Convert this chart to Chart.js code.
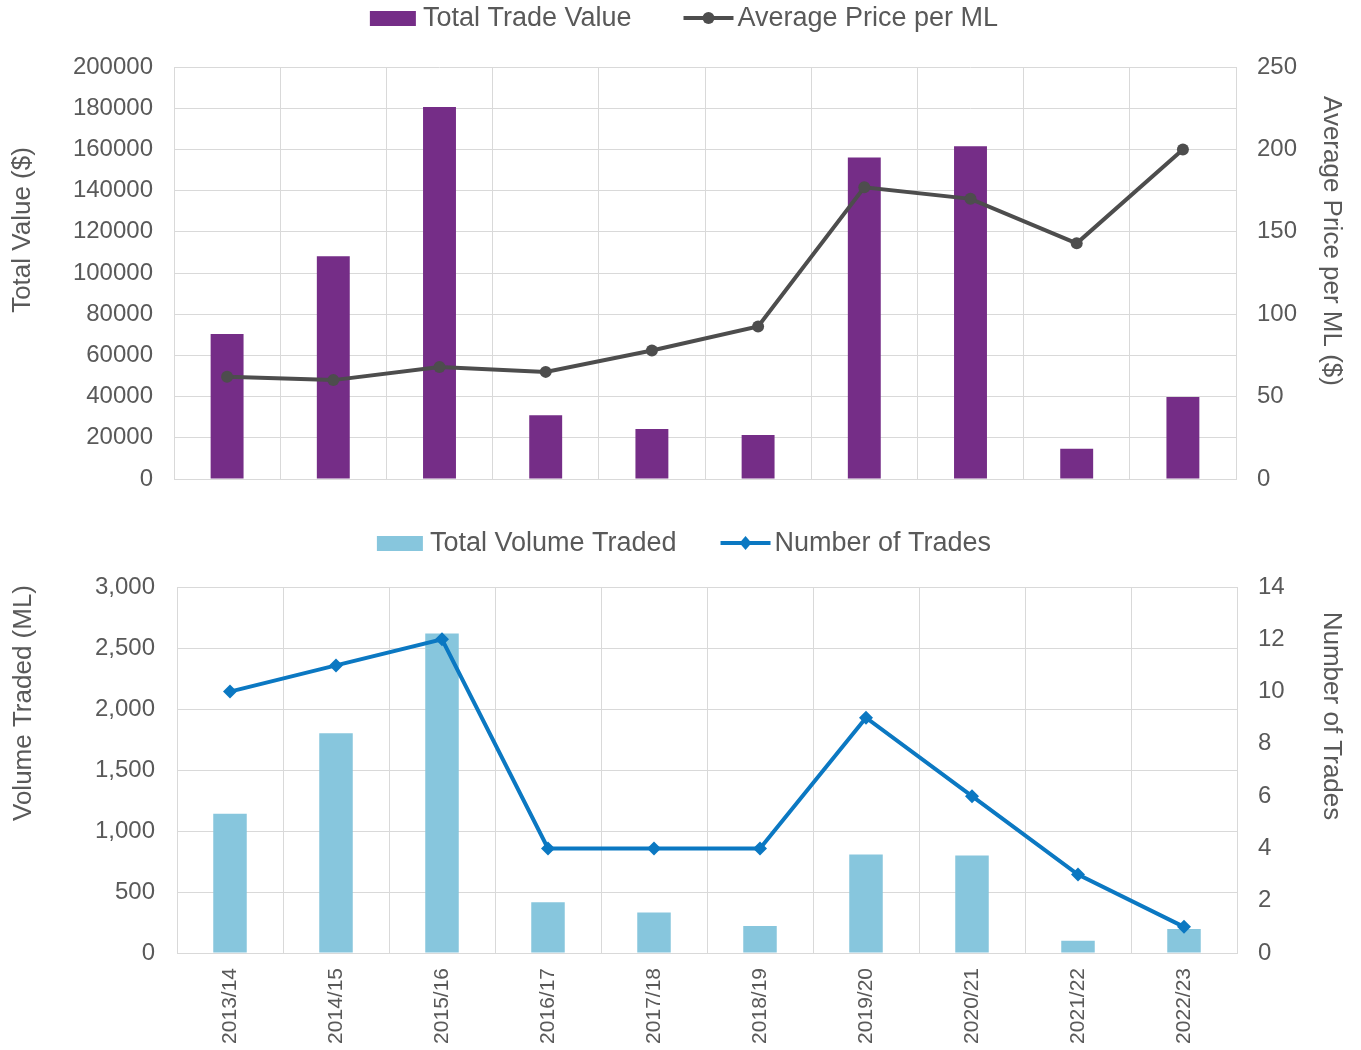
<!DOCTYPE html>
<html>
<head>
<meta charset="utf-8">
<script src="https://cdn.jsdelivr.net/npm/chart.js@4.4.1/dist/chart.umd.min.js"></script>
<style>
  html, body { margin: 0; padding: 0; background: #ffffff; }
  #wrap { position: relative; width: 1361px; height: 1050px; overflow: hidden; }
  .box { position: absolute; left: 0; width: 1361px; }
  #topBox { top: 0; height: 495px; }
  #botBox { top: 500px; height: 550px; }
</style>
</head>
<body>
<div id="wrap">
  <div class="box" id="topBox"><canvas id="topChart" width="1361" height="495"></canvas></div>
  <div class="box" id="botBox"><canvas id="botChart" width="1361" height="550"></canvas></div>
</div>
<script>
// ---------------- DATA ----------------
const categories = ['2013/14', '2014/15', '2015/16', '2016/17', '2017/18', '2018/19', '2019/20', '2020/21', '2021/22', '2022/23'];
const totalTradeValue = [70400, 108100, 180600, 30900, 24300, 21400, 156100, 161500, 14700, 39800];
const avgPricePerML = [62, 60, 68, 65, 78, 92.5, 177, 170, 143, 200];
const totalVolumeTraded = [1142, 1802, 2619, 416, 331, 222, 808, 800, 101, 197];
const numberOfTrades = [10, 11, 12, 4, 4, 4, 9, 6, 3, 1];

const valueAxisTicks = { min: 0, max: 200000, step: 20000 };
const priceAxisTicks = { min: 0, max: 250, step: 50 };
const volumeAxisTicks = { min: 0, max: 3000, step: 500 };
const tradesAxisTicks = { min: 0, max: 14, step: 2 };

// ---------------- STYLE ----------------
const FONT = '"Liberation Sans", Arial, Helvetica, sans-serif';
const TEXT = '#595959';
const GRID = '#d9d9d9';
const CLEAR = 'rgba(0,0,0,0)';
Chart.defaults.font.family = FONT;
Chart.defaults.color = TEXT;
Chart.defaults.animation = false;

const decor = {
  id: 'decor',
  afterDraw(chart, args, opts) {
    const ctx = chart.ctx;
    ctx.save();
    // legend
    ctx.font = opts.legendFont + 'px ' + FONT;
    ctx.textBaseline = 'middle';
    const items = chart.data.datasets.map(ds => {
      const isLine = ds.type === 'line';
      const iconW = isLine ? 50 : 46;
      const gap = isLine ? 4 : 7;
      return { ds, isLine, iconW, gap, tw: ctx.measureText(ds.label).width };
    });
    let total = 0;
    items.forEach((it, i) => { total += it.iconW + it.gap + it.tw + (i ? opts.legendGap : 0); });
    let x = opts.legendCenter - total / 2;
    const y = opts.legendY;
    items.forEach((it, i) => {
      if (i) x += opts.legendGap;
      if (it.isLine) {
        ctx.strokeStyle = it.ds.borderColor;
        ctx.lineWidth = 4;
        ctx.beginPath(); ctx.moveTo(x, y); ctx.lineTo(x + it.iconW, y); ctx.stroke();
        ctx.fillStyle = it.ds.borderColor;
        const cx = x + it.iconW / 2;
        ctx.beginPath();
        if (it.ds.pointStyle === 'rectRot') {
          ctx.moveTo(cx, y - 7); ctx.lineTo(cx + 6, y); ctx.lineTo(cx, y + 7); ctx.lineTo(cx - 6, y);
        } else {
          ctx.arc(cx, y, 6, 0, Math.PI * 2);
        }
        ctx.closePath(); ctx.fill();
      } else {
        ctx.fillStyle = it.ds.backgroundColor;
        ctx.fillRect(x, y - 7, it.iconW, 15);
      }
      x += it.iconW + it.gap;
      ctx.fillStyle = TEXT;
      ctx.textAlign = 'left';
      ctx.fillText(it.ds.label, x, y + 1);
      x += it.tw;
    });
    // axis titles
    ctx.font = opts.titleFont + 'px ' + FONT;
    ctx.fillStyle = TEXT;
    ctx.textAlign = 'center';
    ctx.textBaseline = 'middle';
    opts.titles.forEach(t => {
      ctx.save();
      ctx.translate(t.x, t.y);
      ctx.rotate(t.rot);
      ctx.fillText(t.text, 0, 0);
      ctx.restore();
    });
    ctx.restore();
  }
};

function fixWidth(w) { return scale => { scale.width = w; }; }
function fixHeight(h) { return scale => { scale.height = h; }; }

// ---------------- TOP CHART ----------------
new Chart(document.getElementById('topChart'), {
  type: 'bar',
  data: {
    labels: categories,
    datasets: [
      {
        type: 'bar', label: 'Total Trade Value', data: totalTradeValue,
        backgroundColor: '#752d87', yAxisID: 'yValue', order: 1,
        barPercentage: 0.31, categoryPercentage: 1.0
      },
      {
        type: 'line', label: 'Average Price per ML', data: avgPricePerML,
        borderColor: '#4d4d4d', backgroundColor: '#4d4d4d', borderWidth: 4,
        pointStyle: 'circle', pointRadius: 6, pointBorderWidth: 0,
        yAxisID: 'yPrice', order: 0, tension: 0
      }
    ]
  },
  options: {
    responsive: false,
    maintainAspectRatio: false,
    layout: { padding: { top: 67, left: 0, right: 0, bottom: 0 } },
    plugins: {
      legend: { display: false }, tooltip: { enabled: false },
      decor: {
        legendFont: 27, legendGap: 52, legendCenter: 684, legendY: 18, titleFont: 26,
        titles: [
          { text: 'Total Value ($)', x: 23, y: 230, rot: -Math.PI / 2 },
          { text: 'Average Price per ML ($)', x: 1331, y: 241, rot: Math.PI / 2 }
        ]
      }
    },
    scales: {
      x: {
        grid: { color: GRID, lineWidth: 1, drawTicks: false, offset: true },
        border: { color: GRID, width: 1 },
        ticks: { display: false },
        afterFit: fixHeight(16)
      },
      yValue: {
        position: 'left', min: valueAxisTicks.min, max: valueAxisTicks.max,
        grid: { color: GRID, lineWidth: 1, drawTicks: true, tickLength: 21, tickColor: CLEAR },
        border: { display: false },
        ticks: { stepSize: valueAxisTicks.step, padding: 0, color: TEXT, font: { size: 24 },
                 callback: v => String(v) },
        afterFit: fixWidth(174)
      },
      yPrice: {
        position: 'right', min: priceAxisTicks.min, max: priceAxisTicks.max,
        grid: { drawOnChartArea: false, drawTicks: true, tickLength: 21, tickColor: CLEAR },
        border: { display: false },
        ticks: { stepSize: priceAxisTicks.step, padding: 0, color: TEXT, font: { size: 24 },
                 callback: v => String(v) },
        afterFit: fixWidth(125)
      }
    }
  },
  plugins: [decor]
});

// ---------------- BOTTOM CHART ----------------
new Chart(document.getElementById('botChart'), {
  type: 'bar',
  data: {
    labels: categories,
    datasets: [
      {
        type: 'bar', label: 'Total Volume Traded', data: totalVolumeTraded,
        backgroundColor: '#87c6dd', yAxisID: 'yVolume', order: 1,
        barPercentage: 0.316, categoryPercentage: 1.0
      },
      {
        type: 'line', label: 'Number of Trades', data: numberOfTrades,
        borderColor: '#0b78c2', backgroundColor: '#0b78c2', borderWidth: 4,
        pointStyle: 'rectRot', pointRadius: 7, pointBorderWidth: 0,
        yAxisID: 'yTrades', order: 0, tension: 0
      }
    ]
  },
  options: {
    responsive: false,
    maintainAspectRatio: false,
    layout: { padding: { top: 87, left: 0, right: 0, bottom: 0 } },
    plugins: {
      legend: { display: false }, tooltip: { enabled: false },
      decor: {
        legendFont: 27, legendGap: 44, legendCenter: 684, legendY: 43, titleFont: 26,
        titles: [
          { text: 'Volume Traded (ML)', x: 24, y: 203, rot: -Math.PI / 2 },
          { text: 'Number of Trades', x: 1331, y: 216, rot: Math.PI / 2 }
        ]
      }
    },
    scales: {
      x: {
        grid: { color: GRID, lineWidth: 1, drawTicks: false, offset: true },
        border: { color: GRID, width: 1 },
        ticks: { color: TEXT, font: { size: 21 }, minRotation: 90, maxRotation: 90, padding: 15, autoSkip: false },
        afterFit: fixHeight(97)
      },
      yVolume: {
        position: 'left', min: volumeAxisTicks.min, max: volumeAxisTicks.max,
        grid: { color: GRID, lineWidth: 1, drawTicks: true, tickLength: 22, tickColor: CLEAR },
        border: { display: false },
        ticks: { stepSize: volumeAxisTicks.step, padding: 0, color: TEXT, font: { size: 24 },
                 callback: v => Number(v).toLocaleString('en-US') },
        afterFit: fixWidth(177)
      },
      yTrades: {
        position: 'right', min: tradesAxisTicks.min, max: tradesAxisTicks.max,
        grid: { drawOnChartArea: false, drawTicks: true, tickLength: 21, tickColor: CLEAR },
        border: { display: false },
        ticks: { stepSize: tradesAxisTicks.step, padding: 0, color: TEXT, font: { size: 24 },
                 callback: v => String(v) },
        afterFit: fixWidth(124)
      }
    }
  },
  plugins: [decor]
});
</script>
</body>
</html>
